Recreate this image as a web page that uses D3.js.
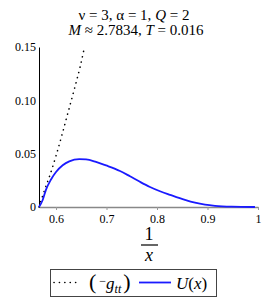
<!DOCTYPE html>
<html><head><meta charset="utf-8">
<script src="https://cdn.jsdelivr.net/npm/d3@7"></script>
<style>body{margin:0;background:#fff}svg{display:block}svg text{font-family:"Liberation Serif","DejaVu Serif",serif}</style>
</head><body>
<script>
const xTicks = [0.6, 0.7, 0.8, 0.9, 1];
const xTickLabels = ["0.6", "0.7", "0.8", "0.9", "1"];
const yTicks = [0, 0.05, 0.10, 0.15];
const yTickLabels = ["0", "0.05", "0.10", "0.15"];
// U(x)
const uX = [0.5663, 0.5736, 0.5802, 0.5901, 0.6000, 0.6132, 0.6263, 0.6461, 0.6594, 0.6792, 0.6990, 0.7267, 0.7465, 0.7663, 0.7861, 0.8059, 0.8257, 0.8554, 0.8752, 0.8950, 0.9148, 0.9479, 0.9940];
const uY = [0, 0.0066, 0.0163, 0.0258, 0.0328, 0.0391, 0.0428, 0.0448, 0.0446, 0.0423, 0.0390, 0.0338, 0.0288, 0.0236, 0.0188, 0.0148, 0.0114, 0.0066, 0.0040, 0.0022, 0.0011, 0.0003, 0];
// -g_tt
const gX = [0.5663, 0.576, 0.588, 0.600, 0.612, 0.624, 0.636, 0.648, 0.6564];
const gY = [0, 0.014, 0.030, 0.048, 0.068, 0.089, 0.110, 0.132, 0.150];

const W = 267, H = 305;
const FF = "Liberation Serif, DejaVu Serif, serif";
const svg = d3.select("body").append("svg").attr("width", W).attr("height", H).attr("font-family", FF);
const x = d3.scaleLinear().domain([0.5663, 1]).range([39, 258]);
const y = d3.scaleLinear().domain([0, 0.15]).range([207, 47]);

// title
const t1 = svg.append("text").attr("x", 134).attr("y", 20).attr("text-anchor", "middle").attr("font-size", 15);
t1.append("tspan").text("ν = 3, α = 1, ");
t1.append("tspan").attr("font-style", "italic").text("Q");
t1.append("tspan").text(" = 2");
const t2 = svg.append("text").attr("x", 136).attr("y", 35).attr("text-anchor", "middle").attr("font-size", 15);
t2.append("tspan").attr("font-style", "italic").text("M");
t2.append("tspan").text(" ≈ 2.7834, ");
t2.append("tspan").attr("font-style", "italic").text("T");
t2.append("tspan").text(" = 0.016");

// axes
const xAxis = d3.axisBottom(x).tickValues(xTicks).tickFormat((d, i) => xTickLabels[i]).tickSize(3).tickSizeOuter(0);
const gx = svg.append("g").attr("transform", "translate(0,207)").call(xAxis).attr("font-family", FF);
gx.select(".domain").attr("stroke", "#888").attr("stroke-width", 1.5);
gx.selectAll(".tick line").attr("stroke", "#999");
gx.selectAll("text").attr("font-size", 12).attr("fill", "#000").attr("dy", "0.85em");

const yAxis = d3.axisLeft(y).tickValues(yTicks).tickFormat((d, i) => yTickLabels[i]).tickSize(0).tickPadding(3).tickSizeOuter(0);
const gy = svg.append("g").attr("transform", "translate(39,0)").call(yAxis).attr("font-family", FF);
gy.select(".domain").attr("stroke", "#000").attr("stroke-width", 1);
gy.selectAll("text").attr("font-size", 12).attr("fill", "#000");

// curves
const line = d3.line().x(d => x(d[0])).y(d => y(d[1])).curve(d3.curveMonotoneX);
svg.append("path").datum(d3.zip(gX, gY)).attr("d", line).attr("fill", "none")
  .attr("stroke", "#000").attr("stroke-width", 1.6).attr("stroke-linecap", "round").attr("stroke-dasharray", "0.1,5.3");
svg.append("path").datum(d3.zip(uX, uY)).attr("d", line).attr("fill", "none")
  .attr("stroke", "#1a1aff").attr("stroke-width", 1.8);

// x label 1/x
svg.append("text").attr("x", 149).attr("y", 240).attr("text-anchor", "middle").attr("font-size", 18).text("1");
svg.append("line").attr("x1", 141).attr("x2", 158).attr("y1", 245).attr("y2", 245).attr("stroke", "#000").attr("stroke-width", 1.2);
svg.append("text").attr("x", 149).attr("y", 261).attr("text-anchor", "middle").attr("font-size", 18).attr("font-style", "italic").text("x");

// legend
svg.append("rect").attr("x", 50.5).attr("y", 269.5).attr("width", 166).attr("height", 27).attr("fill", "#fff").attr("stroke", "#444").attr("stroke-width", 1);
svg.append("line").attr("x1", 54).attr("x2", 80).attr("y1", 282.5).attr("y2", 282.5).attr("stroke", "#000")
  .attr("stroke-width", 1.6).attr("stroke-linecap", "round").attr("stroke-dasharray", "0.1,5.3");
const l1 = svg.append("text").attr("x", 89).attr("y", 289).attr("font-size", 17);
l1.append("tspan").attr("font-size", 22).text("(");
l1.append("tspan").attr("font-size", 12).attr("dy", -4).attr("dx", 3).text("−");
l1.append("tspan").attr("font-style", "italic").attr("dy", 4).text("g");
l1.append("tspan").attr("font-style", "italic").attr("font-size", 12).attr("dy", 4).text("tt");
l1.append("tspan").attr("font-size", 22).attr("dy", -4).attr("dx", 2).text(")");
svg.append("line").attr("x1", 139).attr("x2", 171).attr("y1", 282.5).attr("y2", 282.5).attr("stroke", "#1a1aff").attr("stroke-width", 1.8);
const l2 = svg.append("text").attr("x", 176).attr("y", 289).attr("font-size", 17);
l2.append("tspan").attr("font-style", "italic").text("U");
l2.append("tspan").text("(");
l2.append("tspan").attr("font-style", "italic").text("x");
l2.append("tspan").text(")");
</script>
</body></html>
